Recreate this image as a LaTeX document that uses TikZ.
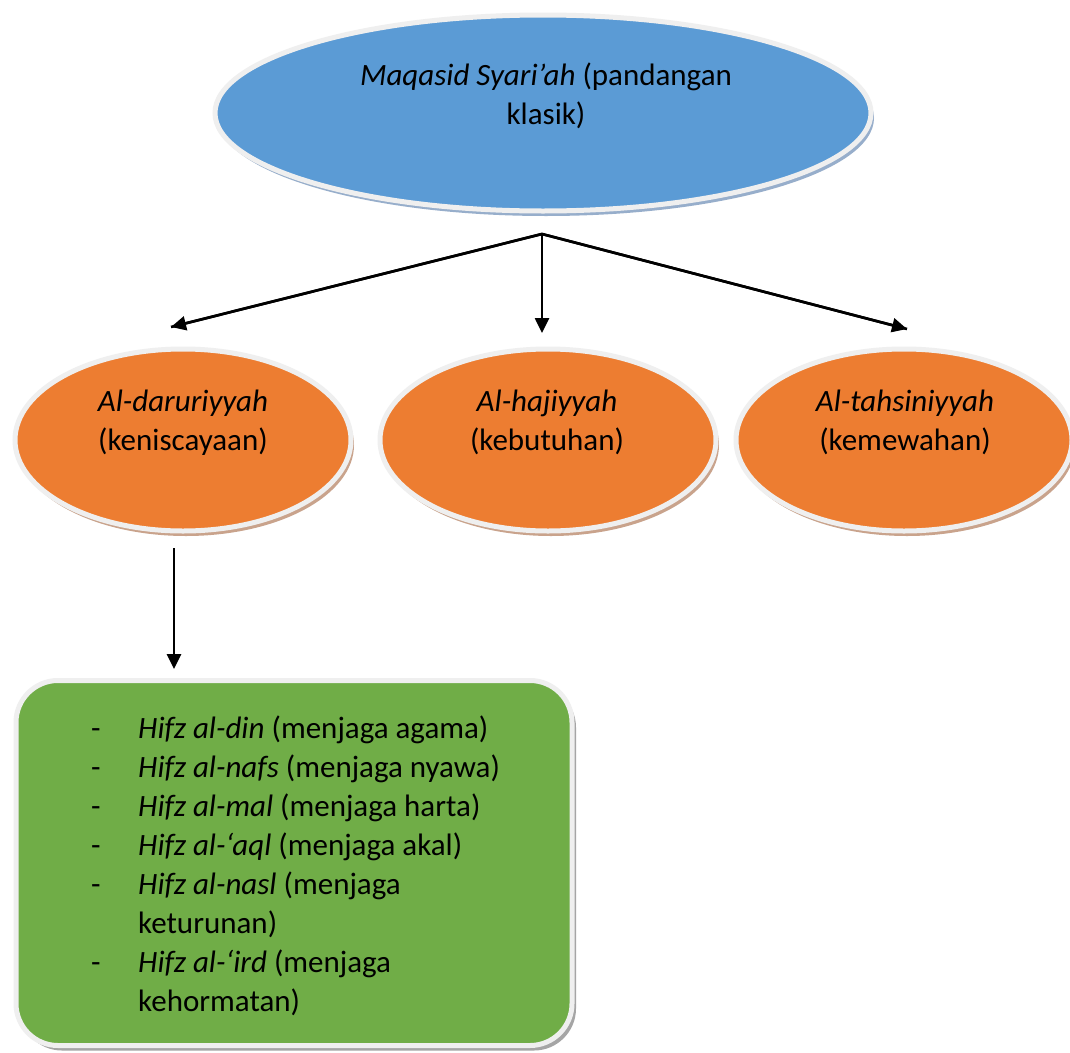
\documentclass[tikz,border=0pt]{standalone}
\usepackage{fontspec}
\setmainfont{Carlito}
\usetikzlibrary{arrows.meta,shapes.geometric}

\definecolor{topfill}{HTML}{5B9BD5}
\definecolor{topshadow}{HTML}{97AECB}
\definecolor{midfill}{HTML}{ED7D31}
\definecolor{midshadow}{HTML}{C9A38C}
\definecolor{listfill}{HTML}{70AD47}
\definecolor{listshadow}{HTML}{A5A5A5}
\definecolor{ringgray}{HTML}{EFEFEF}

% two centred lines, baseline = first line
\newcommand{\twolines}[2]{\begin{tabular}[t]{@{}c@{}}#1\\#2\end{tabular}}

\begin{document}
\begin{tikzpicture}[x=1pt,y=-1pt,
  font=\fontsize{31}{39}\selectfont,
  ring/.style={draw=ringgray, line width=5pt, inner sep=0pt},
  bigoval/.style={ellipse, ring, minimum width=656pt, minimum height=196pt},
  smalloval/.style={ellipse, ring, minimum width=336pt, minimum height=182pt},
  listbox/.style={rectangle, rounded corners=42pt, ring, minimum width=556pt, minimum height=365pt},
  label/.style={anchor=base, inner sep=0pt},
  link/.style={line width=2.6pt, -{Triangle[length=15pt,width=14pt]}}
]
\useasboundingbox (0,0) rectangle (1070,1052);
\fill[white] (0,0) rectangle (1070,1052);

% shadows
\node[bigoval, draw=none, fill=topshadow] (topsh) at (546,118) {};
\node[smalloval, draw=none, fill=midshadow] (dsh) at (186,445) {};
\node[smalloval, draw=none, fill=midshadow] (hsh) at (551,445) {};
\node[smalloval, draw=none, fill=midshadow] (tsh) at (907,445) {};
\node[listbox, draw=none, fill=listshadow] (lsh) at (298,868) {};

% shapes
\node[bigoval, fill=topfill] (top) at (543,113) {};
\node[smalloval, fill=midfill] (dar) at (183,440) {};
\node[smalloval, fill=midfill] (haj) at (548,440) {};
\node[smalloval, fill=midfill] (tah) at (904,440) {};
\node[listbox, fill=listfill] (list) at (294,863) {};

% texts
\node[label] (toptext) at (546,85) {\twolines{\textit{Maqasid Syari’ah} (pandangan}{klasik)}};
\node[label] (dartext) at (183,411) {\twolines{\textit{Al-daruriyyah}}{(keniscayaan)}};
\node[label] (hajtext) at (547,411) {\twolines{\textit{Al-hajiyyah}}{(kebutuhan)}};
\node[label] (tahtext) at (905,411) {\twolines{\textit{Al-tahsiniyyah}}{(kemewahan)}};
\node[anchor=base west, inner sep=0pt] (listtext) at (91,738) {%
  \begin{tabular}[t]{@{}p{47pt}@{}l@{}}
  - & \textit{Hifz al-din} (menjaga agama)\\
  - & \textit{Hifz al-nafs} (menjaga nyawa)\\
  - & \textit{Hifz al-mal} (menjaga harta)\\
  - & \textit{Hifz al-‘aql} (menjaga akal)\\
  - & \textit{Hifz al-nasl} (menjaga\\
    & keturunan)\\
  - & \textit{Hifz al-‘ird} (menjaga\\
    & kehormatan)
  \end{tabular}};

% connectors
\coordinate (split) at (542,234);
\coordinate (toDar) at (171,327);
\coordinate (toHaj) at (542,333);
\coordinate (toTah) at (907,329);
\coordinate (darFoot) at (174,548);
\coordinate (toList) at (174,669);
\draw[line width=2.6pt, line join=miter] (toDar) -- (split) -- (toTah);
\draw[link] (split) -- (toDar);
\draw[link] (split) -- (toHaj);
\draw[link] (split) -- (toTah);
\draw[link] (darFoot) -- (toList);
\end{tikzpicture}
\end{document}
